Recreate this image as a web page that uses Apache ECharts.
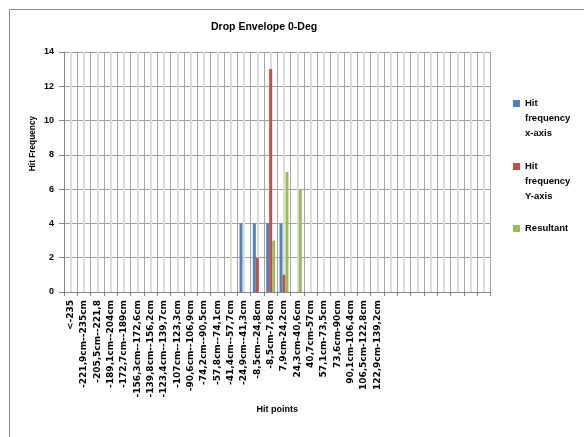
<!DOCTYPE html>
<html>
<head>
<meta charset="utf-8">
<title>Drop Envelope 0-Deg</title>
<script src="https://cdn.jsdelivr.net/npm/echarts@6/dist/echarts.min.js"></script>
<style>
  html, body { margin: 0; padding: 0; background: #ffffff; }
  #chart { width: 584px; height: 437px; }
</style>
</head>
<body>
<div id="chart"></div>
<script>
// Hit-point bins (32 slots, the last eight unlabeled)
var categories = [
  '<-235', '-221,9cm--235cm', '-205,5cm--221,8', '-189,1cm--204cm',
  '-172,7cm--189cm', '-156,3cm--172,6cm', '-139,8cm--156,2cm', '-123,4cm--139,7cm',
  '-107cm--123,3cm', '-90,6cm--106,9cm', '-74,2cm--90,5cm', '-57,8cm--74,1cm',
  '-41,4cm--57,7cm', '-24,9cm--41,3cm', '-8,5cm--24,8cm', '-8,5cm-7,8cm',
  '7,9cm-24,2cm', '24,3cm-40,6cm', '40,7cm-57cm', '57,1cm-73,5cm',
  '73,6cm-90cm', '90,1cm-106,4cm', '106,5cm-122,8cm', '122,9cm-139,2cm',
  '', '', '', '', '', '', '', ''
];

var seriesNames = ['Hit frequency x-axis', 'Hit frequency Y-axis', 'Resultant'];

var hitFreqX = [0,0,0,0,0,0,0,0,0,0,0,0,0, 4,4,4,4, 0,0,0,0,0,0,0,0,0,0,0,0,0,0,0];
var hitFreqY = [0,0,0,0,0,0,0,0,0,0,0,0,0,0, 2,13,1, 0,0,0,0,0,0,0,0,0,0,0,0,0,0,0];
var resultant = [0,0,0,0,0,0,0,0,0,0,0,0,0,0,0, 3,7,6, 0,0,0,0,0,0,0,0,0,0,0,0,0,0];

var yTicks = { min: 0, max: 14, interval: 2 };

var colors = ['#4F81BD', '#C0504D', '#9BBB59'];
// Wrapped legend text; the two leading blank lines keep the swatch level with "Hit"
var legendLines = {
  'Hit frequency x-axis': '\n\nHit\nfrequency\nx-axis',
  'Hit frequency Y-axis': '\n\nHit\nfrequency\nY-axis',
  'Resultant': 'Resultant'
};

var LABEL_FONT = 'Liberation Sans, Arial, sans-serif';

function legendFor(name, top) {
  return {
    data: [name],
    orient: 'vertical',
    left: 513,
    top: top,
    padding: 0,
    itemWidth: 7,
    itemHeight: 7,
    icon: 'rect',
    selectedMode: false,
    formatter: function (n) { return legendLines[n]; },
    textStyle: {
      fontFamily: LABEL_FONT,
      fontWeight: 'bold',
      fontSize: 9.5,
      lineHeight: 15,
      color: '#000'
    }
  };
}

var chart = echarts.init(document.getElementById('chart'), null, { renderer: 'canvas' });

chart.setOption({
  animation: false,
  color: colors,
  title: {
    text: 'Drop Envelope 0-Deg',
    left: 211,
    top: 22,
    padding: 0,
    textStyle: { fontFamily: LABEL_FONT, fontWeight: 'bold', fontSize: 10.5, color: '#000' }
  },
  legend: [
    legendFor(seriesNames[0], 66),
    legendFor(seriesNames[1], 129),
    legendFor(seriesNames[2], 221)
  ],
  grid: { left: 64, right: 93.3, top: 52, bottom: 145, containLabel: false },
  xAxis: [
    {
      type: 'category',
      data: categories,
      boundaryGap: true,
      name: 'Hit points',
      nameLocation: 'middle',
      nameGap: 100,
      nameTextStyle: { fontFamily: LABEL_FONT, fontWeight: 'bold', fontSize: 9, color: '#000' },
      axisLine: { lineStyle: { color: '#868686', width: 1 } },
      axisTick: { show: true, length: 4, interval: 0, lineStyle: { color: '#868686' } },
      axisLabel: {
        interval: 0,
        rotate: 90,
        margin: 8,
        fontFamily: 'DejaVu Sans',
        fontWeight: 'bold',
        fontSize: 9,
        color: '#000'
      },
      splitLine: { show: true, interval: 0, lineStyle: { color: '#A6A6A6', width: 1 } }
    },
    {
      // mid-bin guide lines
      type: 'value',
      min: 0,
      max: 32,
      interval: 1,
      position: 'bottom',
      axisLine: { show: false },
      axisTick: { show: false },
      axisLabel: { show: false },
      splitLine: { show: false },
      minorTick: { show: false, splitNumber: 2 },
      minorSplitLine: { show: true, lineStyle: { color: '#DCDCDC', width: 2 } }
    }
  ],
  yAxis: {
    type: 'value',
    min: yTicks.min,
    max: yTicks.max,
    interval: yTicks.interval,
    axisLine: { show: true, lineStyle: { color: '#868686', width: 1 } },
    axisTick: { show: true, length: 5, lineStyle: { color: '#868686' } },
    axisLabel: { margin: 10, fontFamily: LABEL_FONT, fontWeight: 'bold', fontSize: 9, color: '#000' },
    splitLine: { show: true, lineStyle: { color: '#A0A0A0', width: 1 } }
  },
  graphic: [
    {
      type: 'rect',
      silent: true,
      shape: { x: 9.5, y: 9.5, width: 700, height: 600 },
      style: { fill: 'none', stroke: '#8C8C8C', lineWidth: 1 }
    },
    {
      type: 'text',
      silent: true,
      x: 33,
      y: 143.5,
      rotation: Math.PI / 2,
      style: {
        text: 'Hit Frequency',
        align: 'center',
        verticalAlign: 'middle',
        font: 'bold 8.3px Liberation Sans, Arial, sans-serif',
        fill: '#000'
      }
    }
  ],
  series: [
    { name: seriesNames[0], type: 'bar', xAxisIndex: 0, data: hitFreqX, barWidth: 3, barGap: '0%' },
    { name: seriesNames[1], type: 'bar', xAxisIndex: 0, data: hitFreqY, barWidth: 3, barGap: '0%' },
    { name: seriesNames[2], type: 'bar', xAxisIndex: 0, data: resultant, barWidth: 3, barGap: '0%' }
  ]
});
</script>
</body>
</html>
